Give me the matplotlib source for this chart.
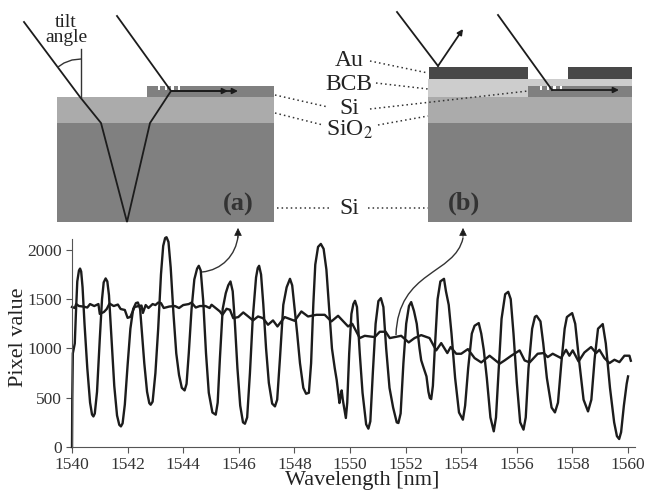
#!/usr/bin/env python3
import matplotlib
matplotlib.use('Agg')
import matplotlib.pyplot as plt
from matplotlib.patches import Rectangle, PathPatch, FancyArrowPatch
from matplotlib.path import Path
import numpy as np

plt.rcParams['font.family'] = ['Liberation Serif', 'DejaVu Serif']
plt.rcParams['mathtext.fontset'] = 'stix'

# oscillating spectrum (wavelength nm, pixel value)
osc_points = [
    (1540, 0), (1540.01, 500), (1540.03, 950), (1540.1, 1050), (1540.14, 1350), (1540.19, 1680), (1540.25, 1790),
    (1540.29, 1810), (1540.33, 1780), (1540.38, 1620), (1540.45, 1250), (1540.55, 800), (1540.65, 450),
    (1540.72, 330), (1540.77, 310), (1540.82, 340), (1540.9, 560), (1541, 1100), (1541.08, 1500), (1541.14, 1670),
    (1541.21, 1710), (1541.27, 1680), (1541.33, 1540), (1541.42, 1100), (1541.52, 620), (1541.62, 320),
    (1541.7, 225), (1541.76, 209), (1541.82, 240), (1541.9, 430), (1542, 830), (1542.1, 1200), (1542.2, 1400),
    (1542.3, 1460), (1542.37, 1466), (1542.45, 1400), (1542.52, 1150), (1542.6, 850), (1542.7, 560),
    (1542.78, 445), (1542.83, 429), (1542.9, 460), (1543, 750), (1543.1, 1200), (1543.2, 1750), (1543.28, 2040),
    (1543.35, 2120), (1543.4, 2128), (1543.47, 2080), (1543.55, 1820), (1543.65, 1350), (1543.75, 950),
    (1543.85, 730), (1543.95, 600), (1544.05, 574), (1544.12, 640), (1544.2, 950), (1544.3, 1400), (1544.4, 1700),
    (1544.5, 1810), (1544.56, 1838), (1544.63, 1790), (1544.72, 1480), (1544.82, 950), (1544.92, 550),
    (1545.05, 350), (1545.17, 328), (1545.24, 450), (1545.32, 900), (1545.42, 1400), (1545.53, 1560),
    (1545.62, 1640), (1545.7, 1679), (1545.78, 1580), (1545.85, 1300), (1545.95, 800), (1546.05, 420),
    (1546.15, 250), (1546.22, 236), (1546.3, 300), (1546.4, 750), (1546.5, 1300), (1546.62, 1720), (1546.68, 1815),
    (1546.73, 1838), (1546.8, 1750), (1546.88, 1450), (1546.98, 1000), (1547.08, 650), (1547.2, 440), (1547.3, 412),
    (1547.38, 480), (1547.48, 900), (1547.6, 1442), (1547.72, 1620), (1547.84, 1706), (1547.92, 1640), (1548, 1420),
    (1548.1, 1150), (1548.2, 850), (1548.32, 600), (1548.42, 540), (1548.52, 550), (1548.6, 850), (1548.68, 1450),
    (1548.75, 1850), (1548.85, 2030), (1548.95, 2060), (1549.05, 2010), (1549.15, 1800), (1549.25, 1400),
    (1549.35, 1000), (1549.45, 800), (1549.52, 680), (1549.62, 446), (1549.66, 520), (1549.7, 574), (1549.74, 480),
    (1549.85, 294), (1549.9, 450), (1549.97, 950), (1550.05, 1350), (1550.12, 1450), (1550.18, 1483),
    (1550.25, 1420), (1550.35, 950), (1550.45, 550), (1550.58, 230), (1550.66, 186), (1550.73, 260), (1550.82, 750),
    (1550.92, 1250), (1551.02, 1480), (1551.11, 1510), (1551.2, 1420), (1551.3, 1000), (1551.42, 600),
    (1551.55, 400), (1551.68, 250), (1551.74, 243), (1551.82, 340), (1551.92, 850), (1552.02, 1250),
    (1552.12, 1430), (1552.2, 1470), (1552.3, 1380), (1552.4, 1250), (1552.5, 1000), (1552.56, 880), (1552.63, 818),
    (1552.75, 716), (1552.82, 560), (1552.87, 497), (1552.92, 486), (1552.98, 620), (1553.05, 1000), (1553.15, 1500),
    (1553.25, 1680), (1553.38, 1706), (1553.45, 1580), (1553.55, 1442), (1553.65, 1150), (1553.78, 700),
    (1553.92, 350), (1554.06, 277), (1554.14, 420), (1554.25, 800), (1554.38, 1150), (1554.48, 1230),
    (1554.63, 1257), (1554.72, 1150), (1554.81, 986), (1554.92, 700), (1555.05, 300), (1555.17, 159), (1555.25, 300),
    (1555.35, 800), (1555.45, 1300), (1555.58, 1550), (1555.69, 1574), (1555.78, 1500), (1555.88, 1150), (1556, 650),
    (1556.12, 250), (1556.24, 176), (1556.32, 300), (1556.42, 800), (1556.55, 1200), (1556.65, 1320), (1556.71, 1331),
    (1556.85, 1274), (1556.95, 1050), (1557.08, 700), (1557.25, 400), (1557.37, 351), (1557.48, 450), (1557.6, 850),
    (1557.72, 1200), (1557.8, 1318), (1557.9, 1340), (1557.99, 1358), (1558.1, 1250), (1558.25, 850), (1558.4, 480),
    (1558.56, 361), (1558.68, 480), (1558.8, 900), (1558.92, 1200), (1559.09, 1247), (1559.2, 1050), (1559.35, 600),
    (1559.5, 250), (1559.6, 110), (1559.68, 81), (1559.75, 150), (1559.85, 420), (1559.95, 640), (1560, 716),
]

# flat spectrum
flat_points = [
    (1540, 1420), (1540.1, 1410), (1540.15, 1450), (1540.25, 1430), (1540.4, 1425), (1540.55, 1415), (1540.65, 1450),
    (1540.8, 1430), (1540.95, 1450), (1541, 1350), (1541.15, 1370), (1541.25, 1400), (1541.35, 1455), (1541.5, 1430),
    (1541.65, 1445), (1541.75, 1400), (1541.9, 1390), (1542, 1310), (1542.1, 1320), (1542.25, 1420), (1542.4, 1430),
    (1542.5, 1435), (1542.55, 1360), (1542.65, 1440), (1542.75, 1410), (1542.9, 1450), (1543, 1440), (1543.1, 1465),
    (1543.2, 1460), (1543.3, 1410), (1543.5, 1425), (1543.7, 1430), (1543.85, 1410), (1544, 1440), (1544.2, 1450),
    (1544.3, 1465), (1544.45, 1415), (1544.6, 1430), (1544.8, 1430), (1544.95, 1410), (1545.02, 1443),
    (1545.32, 1375), (1545.41, 1341), (1545.56, 1402), (1545.68, 1392), (1545.8, 1307), (1545.98, 1318),
    (1546.16, 1365), (1546.34, 1324), (1546.51, 1284), (1546.69, 1324), (1546.87, 1307), (1547.05, 1240),
    (1547.23, 1284), (1547.39, 1223), (1547.65, 1318), (1548.01, 1280), (1548.25, 1375), (1548.49, 1324),
    (1548.79, 1341), (1549.09, 1341), (1549.33, 1274), (1549.57, 1331), (1549.93, 1223), (1550.08, 1250),
    (1550.35, 1105), (1550.53, 1128), (1550.89, 1115), (1551.07, 1169), (1551.28, 1169), (1551.43, 1105),
    (1551.84, 1128), (1552.11, 1061), (1552.32, 1105), (1552.56, 1135), (1552.86, 1105), (1553.1, 980),
    (1553.28, 1054), (1553.5, 953), (1553.62, 1014), (1553.82, 946), (1554, 946), (1554.24, 993), (1554.48, 902),
    (1554.72, 858), (1555.02, 926), (1555.38, 845), (1555.56, 878), (1555.8, 926), (1556.1, 980), (1556.28, 878),
    (1556.46, 858), (1556.75, 946), (1556.97, 953), (1557.11, 912), (1557.29, 946), (1557.59, 902), (1557.77, 986),
    (1557.89, 926), (1558.01, 980), (1558.22, 868), (1558.43, 959), (1558.67, 1014), (1558.85, 953), (1558.97, 986),
    (1559.15, 902), (1559.33, 851), (1559.51, 885), (1559.69, 861), (1559.87, 926), (1560.05, 926), (1560.1, 875),
]

x_ticks = [1540, 1542, 1544, 1546, 1548, 1550, 1552, 1554, 1556, 1558, 1560]
y_ticks = [0, 500, 1000, 1500, 2000]

W, H = 648, 492
SI = '#808080'
OXIDE = '#ababab'
BCB = '#cdcdcd'
AU = '#484848'
INK = '#1c1c1c'

fig = plt.figure(figsize=(W / 100, H / 100), dpi=100)

# sketch layer in pixel coordinates
sk = fig.add_axes([0, 0, 1, 1])
sk.set_xlim(0, W)
sk.set_ylim(H, 0)
sk.axis('off')


def box(x0, y0, x1, y1, color):
    sk.add_patch(Rectangle((x0, y0), x1 - x0, y1 - y0, fc=color, ec='none'))


def ray(xs, ys):
    sk.plot(xs, ys, color=INK, lw=1.3, solid_joinstyle='miter')


def arrow(start, end, lw=1.3):
    sk.add_patch(FancyArrowPatch(start, end, arrowstyle='-|>', mutation_scale=8, color=INK,
                                 lw=lw, shrinkA=0, shrinkB=0))


def dotted(xs, ys):
    sk.plot(xs, ys, color='#333333', lw=1.1, ls=(0, (1, 2)))


def teeth(x0):
    for i in range(4):
        box(x0 + i * 6.7, 86, x0 + i * 6.7 + 2.2, 90, 'white')


# panel a
box(57, 123, 274, 222, SI)
box(57, 97, 274, 123, OXIDE)
box(147, 86, 274, 97, SI)
teeth(158)
ray([24, 80, 101, 127, 150, 171, 117], [22, 97, 123, 222, 123, 91, 16])
sk.plot([81, 81], [49, 97], color='#333333', lw=1)
sk.plot([58, 64, 72, 81], [67, 63, 60, 59], color='#333333', lw=1)
arrow((171, 91), (228, 91))
arrow((171, 91), (238, 91))
sk.text(66, 30, 'tilt\nangle', fontsize=14, ha='center', va='center', color='#222222', linespacing=0.8)
sk.text(238, 204, '(a)', fontsize=19, fontweight='bold', ha='center', va='center', color='#333333')

# panel b
box(428, 123, 632, 222, SI)
box(428, 97, 632, 123, OXIDE)
box(428, 79, 632, 97, BCB)
box(528, 86, 632, 97, SI)
box(429, 67, 528, 79, AU)
box(568, 67, 632, 79, AU)
teeth(540)
ray([397, 438], [12, 66])
arrow((438, 66), (463, 29))
ray([498, 552], [15, 90])
arrow((552, 90), (619, 90))
sk.text(464, 203, '(b)', fontsize=19, fontweight='bold', ha='center', va='center', color='#333333')

# layer labels
sk.text(349, 60, 'Au', fontsize=17, ha='center', va='center', color='#222222')
sk.text(349, 84, 'BCB', fontsize=17, ha='center', va='center', color='#222222')
sk.text(349, 108, 'Si', fontsize=17, ha='center', va='center', color='#222222')
sk.text(349, 130, 'SiO$_2$', fontsize=17, ha='center', va='center', color='#222222')
sk.text(349, 208, 'Si', fontsize=17, ha='center', va='center', color='#222222')
dotted([370, 428], [61, 73])
dotted([376, 428], [83, 89])
dotted([370, 528], [109, 91])
dotted([378, 428], [125, 116])
dotted([275, 328], [95, 107])
dotted([275, 323], [113, 125])
dotted([277, 330], [208, 208])
dotted([368, 428], [208, 208])

# spectrum
ax = fig.add_axes([72 / W, 1 - 447 / H, (635 - 72) / W, (447 - 239) / H])
ax.patch.set_alpha(0)
osc = np.array(osc_points)
flat = np.array(flat_points)
ax.plot(flat[:, 0], flat[:, 1], color=INK, lw=1.7, clip_on=False, solid_joinstyle='round')
ax.plot(osc[:, 0], osc[:, 1], color=INK, lw=1.7, clip_on=False, solid_joinstyle='round')
ax.set_xlim(1540, 1560.25)
ax.set_ylim(0, 2110)
ax.set_xticks(x_ticks)
ax.set_yticks(y_ticks)
ax.tick_params(labelsize=12.5, length=4, width=0.8, color='#555555', labelcolor='#333333', pad=3)
ax.spines['top'].set_visible(False)
ax.spines['right'].set_visible(False)
ax.spines['left'].set_color('#555555')
ax.spines['bottom'].set_color('#555555')
sk.text(362, 481, 'Wavelength [nm]', fontsize=16, ha='center', va='center', color='#222222')
sk.text(19, 337, 'Pixel value', fontsize=16, rotation=90, ha='center', va='center', color='#222222')

# curved pointers, drawn above the spectrum
top = fig.add_axes([0, 0, 1, 1])
top.set_xlim(0, W)
top.set_ylim(H, 0)
top.axis('off')
curve_a = Path([(202, 272), (222, 270), (236, 255), (238, 236)], [Path.MOVETO, Path.CURVE4, Path.CURVE4, Path.CURVE4])
curve_b = Path([(396, 335), (398, 270), (455, 275), (463, 238)], [Path.MOVETO, Path.CURVE4, Path.CURVE4, Path.CURVE4])
for curve, tip in [(curve_a, (238, 228)), (curve_b, (463, 228))]:
    top.add_patch(PathPatch(curve, fc='none', ec='#333333', lw=1))
    top.add_patch(FancyArrowPatch((tip[0], tip[1] + 10), tip, arrowstyle='-|>', mutation_scale=12,
                                  color=INK, lw=0.5, shrinkA=0, shrinkB=0))

fig.savefig('out.png', dpi=100)
